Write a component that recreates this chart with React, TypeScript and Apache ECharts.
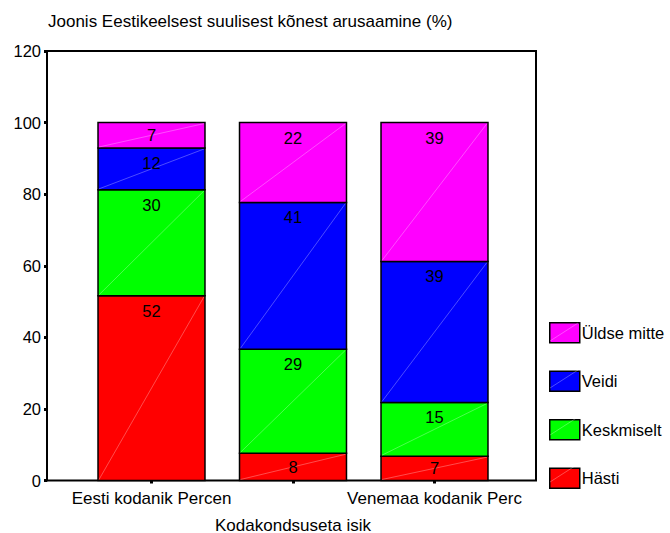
import React, { useEffect, useRef } from "react";
import * as echarts from "echarts";

// Stacked percentages per citizenship group
const categories = ["Eesti kodanik Percen", "Kodakondsuseta isik", "Venemaa kodanik Perc"];
const hasti = [51.6, 7.6, 6.8];
const keskmiselt = [29.6, 29.1, 15.0];
const veidi = [11.7, 41.0, 39.4];
const uldseMitte = [7.1, 22.3, 38.8];
const yTicks = { min: 0, max: 120, interval: 20 };

const FONT = "'Liberation Sans', Arial, sans-serif";

const levels = [
  { name: "Hästi", values: hasti, color: "#ff0000" },
  { name: "Keskmiselt", values: keskmiselt, color: "#00ff00" },
  { name: "Veidi", values: veidi, color: "#0000ff" },
  { name: "Üldse mitte", values: uldseMitte, color: "#ff00ff" },
];

function buildSeries() {
  const base = categories.map(() => 0);
  return levels.map((lvl) => {
    const data = categories.map((_, i) => {
      const start = base[i];
      const end = start + lvl.values[i];
      base[i] = end;
      return [i, start, end, lvl.values[i]];
    });
    return {
      type: "custom",
      name: lvl.name,
      xAxisIndex: 1,
      yAxisIndex: 1,
      itemStyle: { color: lvl.color },
      encode: { x: 0, y: [1, 2] },
      data,
      renderItem: (params: any, api: any) => {
        const idx = api.value(0);
        const p0 = api.coord([idx, api.value(1)]);
        const p1 = api.coord([idx, api.value(2)]);
        const w = api.size([1, 0])[0] * 0.756;
        const x = p0[0] - w / 2;
        const top = p1[1];
        const h = p0[1] - p1[1];
        return {
          type: "group",
          children: [
            {
              type: "rect",
              shape: { x, y: top, width: w, height: h },
              style: { fill: lvl.color, stroke: "#000", lineWidth: 1.5 },
            },
            {
              type: "line",
              shape: { x1: x + 1, y1: top + h - 1, x2: x + w - 1, y2: top + 1 },
              style: { stroke: "rgba(255,255,255,0.5)", lineWidth: 0.6 },
            },
            {
              type: "text",
              x: p0[0],
              y: top + Math.min(15, h / 2),
              style: {
                text: String(Math.round(api.value(3))),
                fill: "#000",
                font: `16.5px ${FONT}`,
                align: "center",
                verticalAlign: "middle",
              },
            },
          ],
        };
      },
    };
  });
}

export default function App() {
  const ref = useRef<HTMLDivElement>(null);

  useEffect(() => {
    if (!ref.current) return;
    document.body.style.margin = "0";
    const chart = echarts.init(ref.current, null, { renderer: "svg" });

    const legendTop = 322;
    const legendStep = 47;
    const swatchLines = [0, 1, 2, 3].map((k) => ({
      type: "line",
      z: 100,
      shape: { x1: 550, y1: legendTop + k * legendStep + 19, x2: 578, y2: legendTop + k * legendStep + 1 },
      style: { stroke: "rgba(255,255,255,0.5)", lineWidth: 0.6 },
    }));

    chart.setOption({
      animation: false,
      backgroundColor: "#fff",
      textStyle: { fontFamily: FONT, color: "#000" },
      title: {
        text: "Joonis Eestikeelsest suulisest kõnest arusaamine (%)",
        left: 48,
        top: 13,
        padding: 0,
        textStyle: { fontFamily: FONT, fontSize: 17, fontWeight: "normal", color: "#000" },
      },
      legend: {
        orient: "vertical",
        left: 549,
        top: legendTop,
        padding: 0,
        itemWidth: 30,
        itemHeight: 20,
        itemGap: legendStep - 20,
        icon: "rect",
        data: ["Üldse mitte", "Veidi", "Keskmiselt", "Hästi"],
        itemStyle: { borderColor: "#000", borderWidth: 1.5 },
        textStyle: { fontFamily: FONT, fontSize: 16.5, color: "#000", padding: [0, 0, 0, -3] },
        selectedMode: false,
      },
      grid: [
        {
          left: 47,
          right: 134,
          top: 51,
          bottom: 52.5,
          outerBoundsMode: "none",
          show: true,
          borderColor: "#000",
          borderWidth: 2,
          backgroundColor: "transparent",
        },
        {
          left: 80.75,
          right: 164.75,
          top: 51,
          bottom: 52.5,
          outerBoundsMode: "none",
        },
      ],
      xAxis: [
        { gridIndex: 0, type: "value", show: false, min: 0, max: 1 },
        {
          gridIndex: 1,
          type: "category",
          data: categories,
          axisLine: { show: false },
          axisTick: { show: true, alignWithLabel: true, length: 3, lineStyle: { color: "#000", width: 3 } },
          axisLabel: {
            interval: 0,
            margin: 4,
            fontFamily: FONT,
            fontSize: 17,
            color: "#000",
            lineHeight: 27,
            formatter: (v: string, i: number) => (i % 2 === 1 ? "\n" + v : v),
          },
        },
      ],
      yAxis: [
        {
          gridIndex: 0,
          type: "value",
          min: yTicks.min,
          max: yTicks.max,
          interval: yTicks.interval,
          axisLine: { show: true, lineStyle: { color: "#000", width: 2 } },
          axisTick: { show: true, length: 3, lineStyle: { color: "#000", width: 3 } },
          splitLine: { show: false },
          axisLabel: { margin: 6, fontFamily: FONT, fontSize: 16.5, color: "#000" },
        },
        {
          gridIndex: 1,
          type: "value",
          min: yTicks.min,
          max: yTicks.max,
          interval: yTicks.interval,
          show: false,
        },
      ],
      series: buildSeries(),
      graphic: swatchLines,
    });

    return () => chart.dispose();
  }, []);

  return <div ref={ref} style={{ width: 670, height: 533 }} />;
}
